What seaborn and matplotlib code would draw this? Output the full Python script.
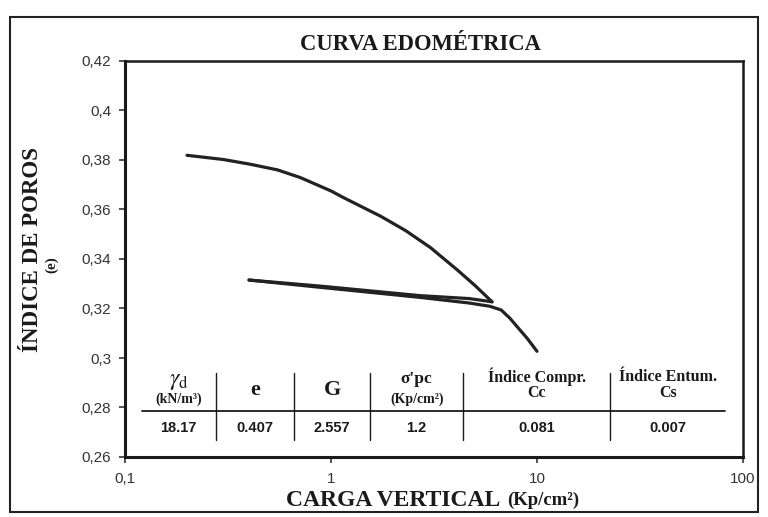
import matplotlib
matplotlib.use("Agg")
import matplotlib.pyplot as plt
import matplotlib.ticker as mticker
from matplotlib.patches import Rectangle
import seaborn as sns

# --- DATA ---
# loading branch: vertical load (Kp/cm2) vs void ratio
load_x = [0.2, 0.3, 0.405, 0.55, 0.71, 1.0, 1.15, 1.74, 2.3, 3.04, 4.1, 5.0, 6.05]
load_e = [0.3819, 0.3802, 0.3783, 0.3760, 0.3729, 0.3675, 0.3648, 0.3573, 0.3515,
          0.3446, 0.3356, 0.3293, 0.3227]

# unloading branch
unload_x = [6.05, 4.7, 2.7, 0.9, 0.4]
unload_e = [0.3227, 0.3240, 0.3252, 0.3290, 0.3315]

# reloading branch
reload_x = [0.4, 0.9, 2.7, 4.7, 5.9, 6.7, 7.4, 8.0, 8.95, 10.0]
reload_e = [0.3315, 0.3285, 0.3245, 0.3222, 0.3209, 0.3194, 0.3160, 0.3127, 0.3080, 0.3027]

y_ticks = [0.26, 0.28, 0.30, 0.32, 0.34, 0.36, 0.38, 0.40, 0.42]
x_ticks = [0.1, 1, 10, 100]

table_values = ["18.17", "0.407", "2.557", "1.2", "0.081", "0.007"]

LINE_COLOR = "#222222"
SERIF = ["Liberation Serif", "DejaVu Serif"]
SANS = ["Liberation Sans", "DejaVu Sans"]


def comma(v, pos=None):
    s = f"{v:.2f}".rstrip("0").rstrip(".")
    return s.replace(".", ",")


def main():
    sns.set_theme(style="white")
    plt.rcParams["mathtext.fontset"] = "stix"

    fig = plt.figure(figsize=(7.68, 5.17), dpi=100)
    fig.patch.set_facecolor("white")
    ax = fig.add_axes([125 / 768, 60 / 517, 618 / 768, 396 / 517])
    ax.set_xscale("log")

    for xs, es in [(load_x, load_e), (unload_x, unload_e), (reload_x, reload_e)]:
        sns.lineplot(x=xs, y=es, sort=False, estimator=None, color=LINE_COLOR,
                     linewidth=2.3, ax=ax)

    ax.set_xlim(0.1, 100)
    ax.set_ylim(0.26, 0.42)
    ax.set_xticks(x_ticks)
    ax.xaxis.set_major_formatter(mticker.FuncFormatter(lambda v, p: comma(v)))
    ax.xaxis.set_minor_locator(mticker.NullLocator())
    ax.set_yticks(y_ticks)
    ax.yaxis.set_major_formatter(mticker.FuncFormatter(comma))
    ax.set_xlabel("")
    ax.set_ylabel("")

    ax.tick_params(axis="both", direction="out", length=4, width=1.2, color="#333333",
                   labelsize=11, labelcolor="#333333", left=True, bottom=True)
    ax.tick_params(axis="y", pad=6)
    ax.tick_params(axis="x", pad=7)
    for lab in ax.get_xticklabels() + ax.get_yticklabels():
        lab.set_family(SANS)

    for side in ["left", "bottom"]:
        ax.spines[side].set_linewidth(2.2)
        ax.spines[side].set_color("#1a1a1a")
    for side in ["top", "right"]:
        ax.spines[side].set_linewidth(1.8)
        ax.spines[side].set_color("#1a1a1a")

    # --- titles and axis labels ---
    fig.text(421 / 768, 1 - 44 / 517, "CURVA EDOMÉTRICA", family=SERIF, weight="bold",
             fontsize=16.3, ha="center", va="center", color="#1a1a1a")
    fig.text(286 / 768, 1 - 500 / 517, "CARGA VERTICAL", family=SERIF, weight="bold",
             fontsize=17, ha="left", va="center", color="#1a1a1a")
    fig.text(507 / 768, 1 - 500 / 517, "(Kp/cm²)", family=SERIF, weight="bold",
             fontsize=13.5, ha="left", va="center", color="#1a1a1a")
    fig.text(33 / 768, 1 - 250 / 517, "ÍNDICE DE POROS", family=SERIF, weight="bold",
             fontsize=16.5, ha="center", va="center", rotation=90, color="#1a1a1a")
    fig.text(52 / 768, 1 - 265 / 517, "(e)", family=SERIF, weight="bold",
             fontsize=11, ha="center", va="center", rotation=90, color="#1a1a1a")

    # --- parameter table inside the plot ---
    tr = ax.transAxes
    ax.plot([0.0275, 0.971], [0.116, 0.116], transform=tr, color="#1a1a1a", lw=1.3)
    for sx in [0.147, 0.273, 0.396, 0.547, 0.785]:
        ax.plot([sx, sx], [0.043, 0.212], transform=tr, color="#1a1a1a", lw=1.0)

    centers = [0.087, 0.210, 0.335, 0.472, 0.666, 0.878]
    hkw = dict(transform=tr, family=SERIF, weight="bold", ha="center", va="center",
               color="#1a1a1a")
    ax.text(centers[0], 0.190, r"$\gamma_{\mathrm{d}}$", fontsize=17, **hkw)
    ax.text(centers[0], 0.147, "(kN/m³)", fontsize=10, **hkw)
    ax.text(centers[1], 0.169, "e", fontsize=16, **hkw)
    ax.text(centers[2], 0.169, "G", fontsize=16, **hkw)
    ax.text(centers[3], 0.197, "σ'pc", fontsize=12.5, **hkw)
    ax.text(centers[3], 0.147, "(Kp/cm²)", fontsize=10, **hkw)
    ax.text(centers[4], 0.202, "Índice Compr.", fontsize=11.5, **hkw)
    ax.text(centers[4], 0.161, "Cc", fontsize=11.5, **hkw)
    ax.text(centers[5], 0.202, "Índice Entum.", fontsize=11.5, **hkw)
    ax.text(centers[5], 0.161, "Cs", fontsize=11.5, **hkw)

    for cx, val in zip(centers, table_values):
        ax.text(cx, 0.073, val, transform=tr, family=SANS, weight="bold", fontsize=10.5,
                ha="center", va="center", color="#1a1a1a")

    # outer frame around the whole chart
    fig.patches.append(Rectangle((10 / 768, 5 / 517), 748 / 768, 495 / 517,
                                 transform=fig.transFigure, fill=False,
                                 edgecolor="#222222", linewidth=1.5))

    fig.savefig("out.png", dpi=100)


if __name__ == "__main__":
    main()
